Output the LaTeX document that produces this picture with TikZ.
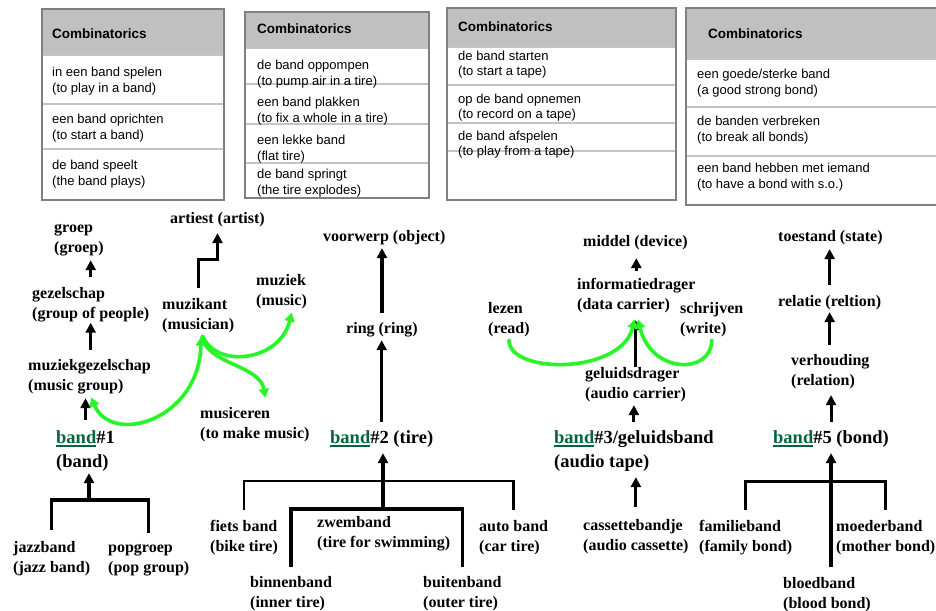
\documentclass[tikz,border=0pt]{standalone}
\usepackage{fontspec}
\setmainfont{Liberation Serif}
\setsansfont{Liberation Sans}
\usetikzlibrary{arrows.meta}
\definecolor{bandgreen}{RGB}{0,102,60}
\definecolor{linkgreen}{RGB}{40,245,40}
\definecolor{headgray}{RGB}{192,192,192}
\definecolor{sepgray}{RGB}{196,196,196}
\definecolor{framegray}{RGB}{128,128,128}
\newcommand\bandword{\textcolor{bandgreen}{\setbox0\hbox{band}\rlap{\rule[-3.5pt]{\wd0}{1.6pt}}\box0}}

\tikzset{
  word/.style={font=\fontsize{16}{20}\selectfont\bfseries, align=left, inner sep=0pt, anchor=base west},
  sense/.style={word, font=\fontsize{18.5}{24}\selectfont\bfseries},
  hyparrow/.style={line width=3.1pt, -{Triangle[length=10pt,width=10pt]}},
  part/.style={line width=3.4pt},
  link/.style={linkgreen, line width=3.6pt, line cap=round, -{Triangle[length=9pt,width=10pt]}},
  tframe/.style={draw=framegray, line width=1.3pt},
  tsep/.style={draw=sepgray, line width=2.5pt},
  thead/.style={font=\sffamily\fontsize{13.5}{16}\selectfont\bfseries, inner sep=0pt, anchor=base west},
  trow/.style={font=\sffamily\fontsize{13}{16}\selectfont, align=left, inner sep=0pt, anchor=base west}
}

\begin{document}
\begin{tikzpicture}[x=1pt,y=-1pt]
\useasboundingbox (0,0) rectangle (936,610);

% combinatorics tables
\fill[headgray] (42,9) rectangle (224,55);
\draw[tsep] (42,55) -- (224,55) (42,104) -- (224,104) (42,149) -- (224,149);
\draw[tframe] (42,9) rectangle (224,200);
\node[thead] (t1h) at (52,38) {Combinatorics};
\node[trow] (t1a) at (52,92) {in een band spelen\\(to play in a band)};
\node[trow] (t1b) at (52,139) {een band oprichten\\(to start a band)};
\node[trow] (t1c) at (52,185) {de band speelt\\(the band plays)};

\fill[headgray] (245,12) rectangle (429,48);
\draw[tsep] (245,48) -- (429,48) (245,84) -- (429,84) (245,124) -- (429,124) (245,163) -- (429,163);
\draw[tframe] (245,12) rectangle (429,198);
\node[thead] (t2h) at (257,34) {Combinatorics};
\node[trow] (t2a) at (257,85) {de band oppompen\\(to pump air in a tire)};
\node[trow] (t2b) at (257,122) {een band plakken\\(to fix a whole in a tire)};
\node[trow] (t2c) at (257,160) {een lekke band\\(flat tire)};
\node[trow] (t2d) at (257,194) {de band springt\\(the tire explodes)};

\fill[headgray] (447,8) rectangle (676,47);
\draw[tsep] (447,47) -- (676,47) (447,85) -- (676,85) (447,123) -- (676,123) (447,151) -- (676,151);
\draw[tframe] (447,8) rectangle (676,200);
\node[thead] (t3h) at (458,32) {Combinatorics};
\node[trow, font=\sffamily\fontsize{13}{15}\selectfont] (t3a) at (458,75) {de band starten\\(to start a tape)};
\node[trow, font=\sffamily\fontsize{13}{15}\selectfont] (t3b) at (458,118) {op de band opnemen\\(to record on a tape)};
\node[trow, font=\sffamily\fontsize{13}{15}\selectfont] (t3c) at (458,155) {de band afspelen\\(to play from a tape)};

\fill[headgray] (686,8) rectangle (942,59);
\draw[tsep] (686,59) -- (942,59) (686,107) -- (942,107) (686,156) -- (942,156);
\draw[tframe] (686,8) rectangle (942,205);
\node[thead] (t4h) at (708,39) {Combinatorics};
\node[trow] (t4a) at (697,94) {een goede/sterke band\\(a good strong bond)};
\node[trow] (t4b) at (697,141) {de banden verbreken\\(to break all bonds)};
\node[trow] (t4c) at (697,188) {een band hebben met iemand\\(to have a bond with s.o.)};

% band #1
\node[word] (groep) at (54,252) {groep\\(groep)};
\node[word] (gezel) at (32,318) {gezelschap\\(group of people)};
\node[word] (mgez) at (28,390) {muziekgezelschap\\(music group)};
\node[sense] (band1) at (56,467) {\bandword\#1\\(band)};
\node[word] (jazz) at (13,572) {jazzband\\(jazz band)};
\node[word] (pop) at (108,572) {popgroep\\(pop group)};
\node[word] (artiest) at (170,223) {artiest (artist)};
\node[word] (muzikant) at (162,329) {muzikant\\(musician)};
\node[word] (muziek) at (256,305) {muziek\\(music)};
\node[word] (musiceren) at (200,438) {musiceren\\(to make music)};
\coordinate (j1) at (89,500);

\draw[hyparrow, shorten <=10pt, shorten >=4.5pt] (gezel.north) -- (gezel.north |- groep.south);
\draw[hyparrow, shorten <=9pt, shorten >=1pt] (gezel.south |- mgez.north) -- (gezel.south);
\draw[hyparrow, shorten <=10pt, shorten >=4.5pt] (band1.north) -- (band1.north |- mgez.south);
\draw[hyparrow, shorten >=2pt] (j1) -- (j1 |- band1.south);
\draw[part, shorten <=11pt, shorten >=11pt] (jazz.north) |- (j1) -| (pop.north);
\draw[hyparrow, shorten <=10pt, shorten >=6.5pt] (muzikant.north) -- ++(0,-38) -| (artiest.south);

\draw[link, {Triangle[length=9pt,width=10pt]}-{Triangle[length=9pt,width=10pt]}, shorten <=4pt, shorten >=4pt]
  (mgez.south) .. controls +(22,52) and +(-2,88) .. ([xshift=3pt]muzikant.south);
\draw[link, shorten <=4pt, shorten >=4pt]
  ([xshift=3pt]muzikant.south) .. controls +(16,37) and +(-12,52) .. ([xshift=11pt]muziek.south);
\draw[link, shorten <=4pt, shorten >=9pt]
  ([xshift=3pt]muzikant.south) .. controls +(6,32) and +(-7,-42) .. ([xshift=12pt]musiceren.north);

% band #2
\node[word] (voorwerp) at (323,241) {voorwerp (object)};
\node[word] (ring) at (346,333) {ring (ring)};
\node[sense] (band2) at (330,443) {\bandword\#2 (tire)};
\node[word] (fiets) at (210,551) {fiets band\\(bike tire)};
\node[word] (zwem) at (317,547) {zwemband\\(tire for swimming)};
\node[word] (auto) at (479,551) {auto band\\(car tire)};
\node[word] (binnen) at (250,607) {binnenband\\(inner tire)};
\node[word] (buiten) at (423,607) {buitenband\\(outer tire)};
\coordinate (j2o) at (383,481);
\coordinate (j2) at (383,509);

\draw[hyparrow, shorten <=9pt, shorten >=3.5pt] (ring.north) -- (ring.north |- voorwerp.south);
\draw[hyparrow, shorten <=8pt, shorten >=3.5pt] (band2.north) -- (band2.north |- ring.south);
\draw[hyparrow, shorten >=6pt] (j2) -- (j2 |- band2.south);
\draw[part, line width=2.6pt, shorten <=10pt, shorten >=10pt] (fiets.north) |- (j2o) -| (auto.north);
\draw[part, shorten <=9pt, shorten >=9pt] (binnen.north) |- (j2) -| (buiten.north);

% band #3
\node[word] (middel) at (583,246) {middel (device)};
\node[word] (info) at (577,309) {informatiedrager\\(data carrier)};
\node[word] (lezen) at (488,333) {lezen\\(read)};
\node[word] (schrijven) at (680,333) {schrijven\\(write)};
\node[word] (geluid) at (585,398) {geluidsdrager\\(audio carrier)};
\node[sense] (band3) at (554,467) {\bandword\#3/geluidsband\\(audio tape)};
\node[word] (cassette) at (583,550) {cassettebandje\\(audio cassette)};

\draw[hyparrow, shorten <=7pt, shorten >=8.5pt] (info.north) -- (info.north |- middel.south);
\draw[hyparrow, shorten >=7.5pt] (geluid.north) -- (geluid.north |- info.south);
\draw[hyparrow, shorten <=8pt, shorten >=3.5pt] (band3.north) -- (band3.north |- geluid.south);
\draw[hyparrow, shorten <=12pt, shorten >=6pt] (cassette.north) -- (cassette.north |- band3.south);

\draw[link, shorten <=3.5pt, shorten >=7pt]
  (lezen.south) .. controls +(0,38) and +(-15,62) .. (info.south);
\draw[link, shorten <=3.5pt, shorten >=7pt]
  (schrijven.south) .. controls +(0,38) and +(15,62) .. (info.south);

% band #5
\node[word] (toestand) at (778,241) {toestand (state)};
\node[word] (relatie) at (778,306) {relatie (reltion)};
\node[word] (verh) at (791,385) {verhouding\\(relation)};
\node[sense] (band5) at (773,443) {\bandword\#5 (bond)};
\node[word] (familie) at (699,551) {familieband\\(family bond)};
\node[word] (moeder) at (836,551) {moederband\\(mother bond)};
\node[word] (bloed) at (783,608) {bloedband\\(blood bond)};
\coordinate (j5) at (828,481);

\draw[hyparrow, shorten <=10pt, shorten >=4.5pt] (relatie.north) -- (relatie.north |- toestand.south);
\draw[hyparrow, shorten <=9pt, shorten >=2.5pt] (relatie.south |- verh.north) -- (relatie.south);
\draw[hyparrow, shorten <=8pt, shorten >=6.5pt] (band5.north) -- (band5.north |- verh.south);
\draw[hyparrow, line width=4.2pt, shorten <=10pt, shorten >=6pt] (band5.south |- bloed.north) -- (band5.south);
\draw[part, line width=3pt, shorten <=10pt, shorten >=10pt] (familie.north) |- (j5) -| (moeder.north);
\end{tikzpicture}
\end{document}
